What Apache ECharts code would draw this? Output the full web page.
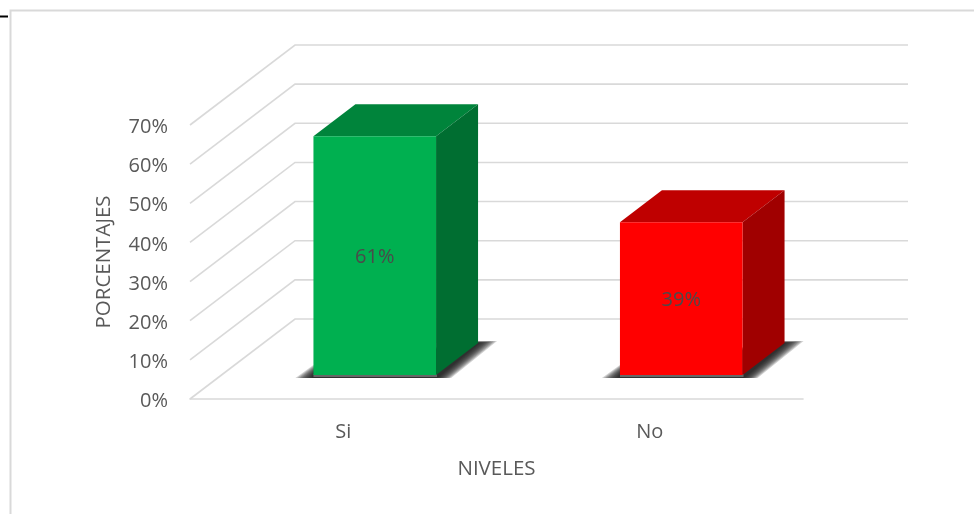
<!DOCTYPE html>
<html><head><meta charset="utf-8">
<style>html,body{margin:0;padding:0;background:#fff}#c{width:974px;height:514px}</style>
<script src="https://cdn.jsdelivr.net/npm/echarts@6/dist/echarts.min.js"></script>
</head><body><div id="c"></div>
<script>
const categories = ['Si', 'No'];
const values = [61, 39];
const tickValues = [0, 10, 20, 30, 40, 50, 60, 70];
const faceColors = ['#00B050', '#FF0000'];
const topColors = ['#00843B', '#BF0000'];
const sideColors = ['#006E31', '#A00000'];
const textColor = '#595959';
const FONT = '"Open Sans", sans-serif';

const WALL = [105, -80];
const BAR_HALF = 61.3;
const BAR_FRONT = [31.5, -24];
const BAR_DEPTH = [42, -32];
const SHADOW_LAYERS = 10;

function renderWall(params, api) {
  const y = api.coord([0, api.value(0)])[1];
  const left = params.coordSys.x, right = left + params.coordSys.width;
  const pts = [[left, y], [left + WALL[0], y + WALL[1]], [right + WALL[0], y + WALL[1]]];
  return { type: 'polyline', shape: { points: pts },
    style: { fill: null, stroke: '#D9D9D9', lineWidth: 1.6 }, silent: true };
}

function renderBar(params, api) {
  const i = api.value(0), val = api.value(1);
  const base = api.coord([i, 0]), top = api.coord([i, val]);
  const x0 = base[0] + BAR_FRONT[0] - BAR_HALF, x1 = base[0] + BAR_FRONT[0] + BAR_HALF;
  const y0 = base[1] + BAR_FRONT[1], y1 = top[1] + BAR_FRONT[1];
  const dx = BAR_DEPTH[0], dy = BAR_DEPTH[1];
  const poly = (points, fill) => ({ type: 'polygon', shape: { points }, style: { fill }, silent: true });
  const shadow = [];
  for (let k = SHADOW_LAYERS; k >= 1; k--) {
    const t = k / SHADOW_LAYERS;
    shadow.push(poly([
      [x0 - 18 * t, y0 + 3], [x1 + 15 * t, y0 + 3],
      [x1 + dx + 19 * t, y0 + dy - 2 * t], [x1 + dx, y0 + dy - 2 * t], [x0, y0 - 10 * t]
    ], 'rgba(25,25,25,0.2)'));
  }
  return { type: 'group', children: shadow.concat([
    poly([[x0, y0 - 1], [x1 + 1, y0 - 1], [x1 + 1, y0 + 2], [x0, y0 + 2]], '#666'),
    poly([[x0, y1], [x0 + dx, y1 + dy], [x1 + dx, y1 + dy], [x1, y1]], topColors[i]),
    poly([[x1, y1], [x1 + dx, y1 + dy], [x1 + dx, y0 + dy], [x1, y0]], sideColors[i]),
    poly([[x0, y1], [x1, y1], [x1, y0], [x0, y0]], faceColors[i]),
    { type: 'text', silent: true, style: { text: val + '%', x: (x0 + x1) / 2, y: (y0 + y1) / 2 + 2,
      align: 'center', verticalAlign: 'middle', fill: '#4a4a4a', font: '20px ' + FONT } }
  ]) };
}

const chart = echarts.init(document.getElementById('c'), null, { renderer: 'canvas' });
chart.setOption({
  animation: false,
  backgroundColor: '#fff',
  grid: { left: 190, right: 171, top: 125, bottom: 115, containLabel: false },
  xAxis: { type: 'category', data: categories,
    name: 'NIVELES', nameLocation: 'middle', nameGap: 60,
    nameTextStyle: { color: textColor, fontSize: 20.5, fontFamily: FONT },
    axisLine: { show: true, lineStyle: { color: '#D9D9D9', width: 1.6 } },
    axisTick: { show: false },
    axisLabel: { color: textColor, fontSize: 20, fontFamily: FONT, margin: 23 } },
  yAxis: { type: 'value', min: 0, max: 70, interval: 10,
    name: 'PORCENTAJES', nameLocation: 'middle', nameGap: 75, nameRotate: 90,
    nameTextStyle: { color: textColor, fontSize: 20.5, fontFamily: FONT },
    axisLine: { show: false }, axisTick: { show: false }, splitLine: { show: false },
    axisLabel: { margin: 22, formatter: '{a|{value}%}',
      rich: { a: { color: textColor, fontSize: 20, fontFamily: FONT, padding: [5, 0, 0, 0] } } } },
  graphic: [
    { type: 'polyline', silent: true, z: 0, shape: { points: [[10.5, 514], [10.5, 10.5], [974, 10.5]] },
      style: { fill: null, stroke: '#D9D9D9', lineWidth: 2 } },
    { type: 'line', silent: true, z: 0, shape: { x1: 0, y1: 16.5, x2: 8, y2: 16.5 },
      style: { stroke: '#000', lineWidth: 2 } }
  ],
  series: [
    { type: 'custom', coordinateSystem: 'cartesian2d', z: 1, clip: false,
      encode: { y: 0 }, data: tickValues.map(v => [v]), renderItem: renderWall },
    { type: 'custom', coordinateSystem: 'cartesian2d', z: 2, clip: false,
      encode: { x: 0, y: 1 }, data: values.map((v, i) => [i, v]), renderItem: renderBar }
  ]
});
</script></body></html>
